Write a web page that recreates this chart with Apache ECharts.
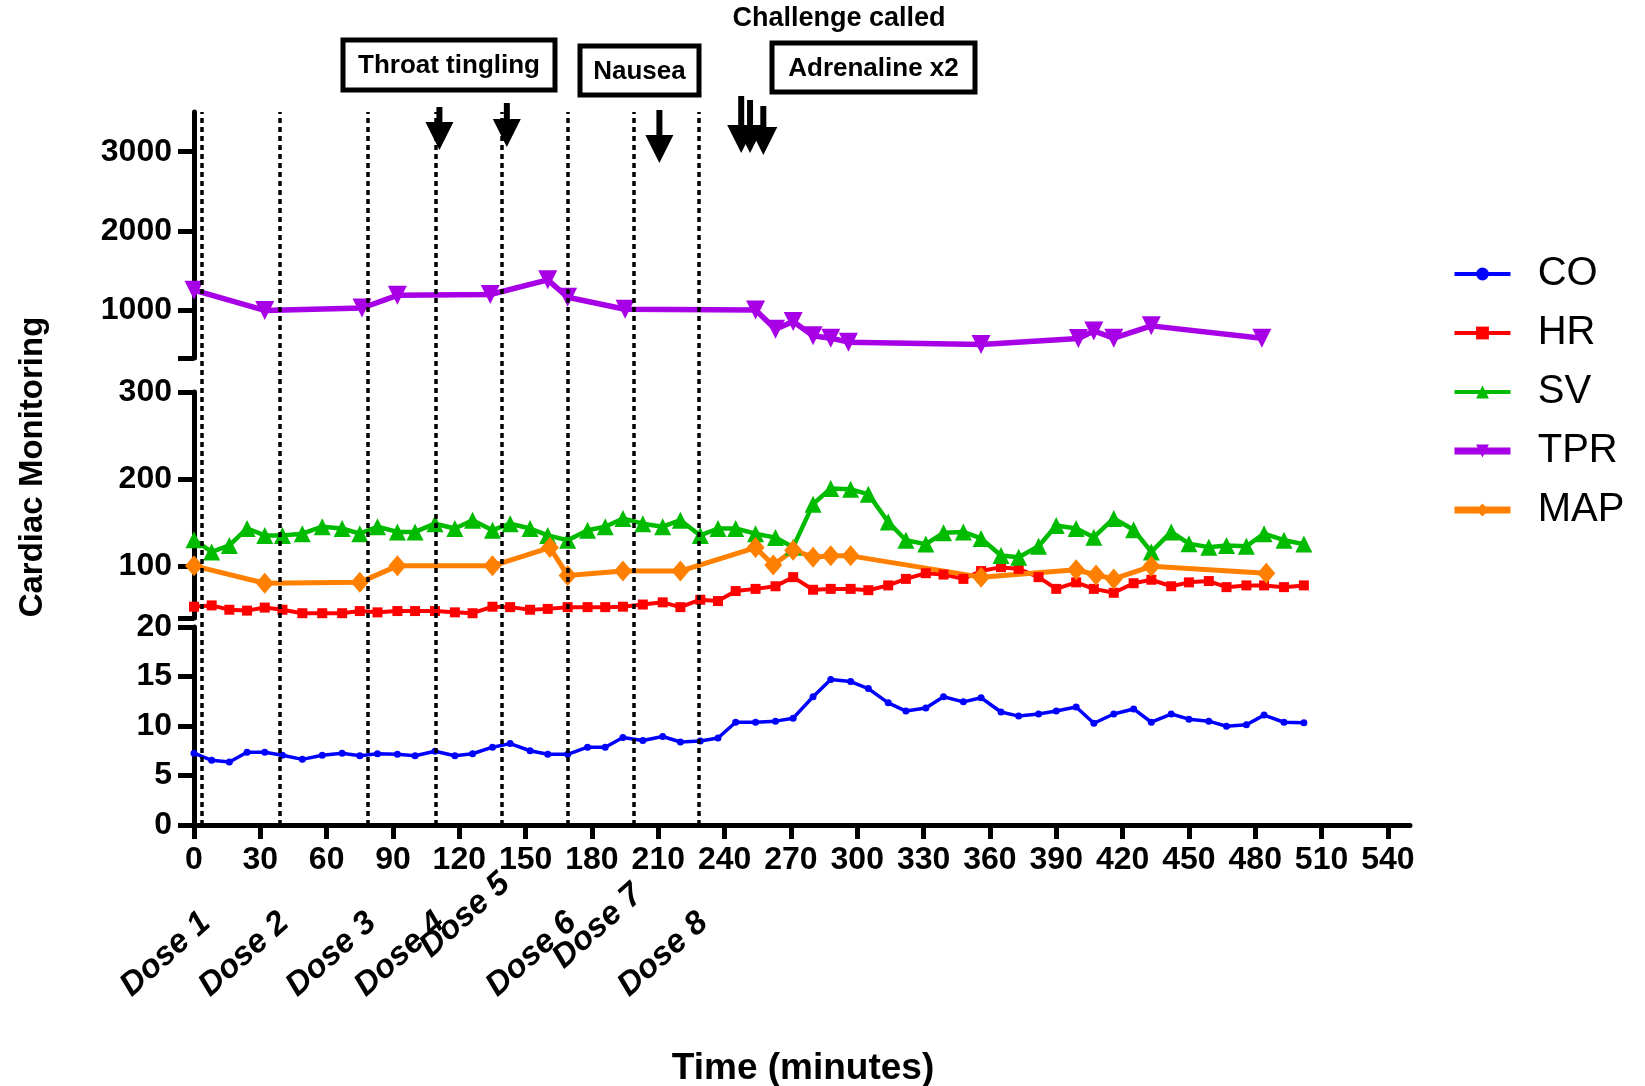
<!DOCTYPE html>
<html>
<head>
<meta charset="utf-8">
<script src="https://cdn.jsdelivr.net/npm/echarts@6/dist/echarts.min.js"></script>
<style>
html,body{margin:0;padding:0;background:#fff;}
#chart{width:1645px;height:1086px;}
</style>
</head>
<body>
<div id="chart"></div>
<script>
// ---------------- DATA ----------------
const seriesNames = ['CO', 'HR', 'SV', 'TPR', 'MAP'];

// measurement times (minutes) shared by CO, HR and SV
const monitorTimes = [0, 8, 16, 24, 32, 40, 49, 58, 67, 75, 83, 92, 100, 109, 118, 126, 135, 143, 152, 160,
  169, 178, 186, 194, 203, 212, 220, 229, 237, 245, 254, 263, 271, 280, 288, 297, 305, 314, 322, 331,
  339, 348, 356, 365, 373, 382, 390, 399, 407, 416, 425, 433, 442, 450, 459, 467, 476, 484, 493, 502];

const coValues = [7.25, 6.53, 6.37, 7.35, 7.35, 7.04, 6.63, 7.04, 7.25, 6.99, 7.2, 7.14, 6.99, 7.45, 6.99, 7.2, 7.86, 8.22, 7.5, 7.14,
  7.14, 7.86, 7.86, 8.84, 8.53, 8.94, 8.38, 8.48, 8.79, 10.38, 10.38, 10.49, 10.79, 12.95, 14.7, 14.49, 13.78, 12.34, 11.51, 11.82,
  12.95, 12.44, 12.85, 11.41, 11.0, 11.21, 11.51, 11.92, 10.28, 11.21, 11.72, 10.38, 11.21, 10.69, 10.49, 9.97, 10.13, 11.1, 10.38, 10.33];

const hrValues = [53, 54.5, 49.5, 48.5, 52, 49.5, 45.5, 45.5, 45.5, 48, 46.5, 48, 48, 48, 46.5, 45.5, 53, 52.5, 49.5, 50.5,
  52.5, 52.5, 52.5, 53, 55.5, 58, 52.5, 61, 59.5, 71, 73.5, 76.5, 87, 72.5, 73.5, 73.5, 72, 77.5, 85, 91.5,
  90, 85, 94, 98.5, 96.5, 87, 73.5, 81, 73.5, 69, 80, 84, 76.5, 81, 82.5, 75.5, 77.5, 77.5, 75.5, 77.5];

const svValues = [130, 116, 123.5, 143, 135, 135, 137, 145, 143, 137, 145, 139, 139, 148.5, 143, 152.5, 141, 148.5, 143, 135,
  129.5, 141, 145, 154.5, 148.5, 145, 152.5, 135, 143, 143, 137, 132.5, 121.5, 171, 189, 188, 182.5, 150.5, 129.5, 125,
  138, 139, 131.5, 112, 110, 122.5, 146.5, 143, 133, 154.5, 141.5, 116, 139, 125.5, 121.5, 123.5, 122.5, 137, 129.5, 125];

const tprTimes = [0, 32, 76, 92, 134, 160, 169, 195, 254, 263, 271, 280, 288, 296, 356, 400, 407, 416, 433, 483];
const tprValues = [1255, 1000, 1030, 1190, 1200, 1385, 1165, 1015, 1005, 763, 860, 680, 650, 600, 570, 645, 740, 650, 805, 650];

const mapTimes = [0, 32, 75, 92, 135, 161, 169, 194, 220, 254, 262, 271, 280, 288, 297, 356, 399, 408, 416, 433, 485];
const mapValues = [100, 80, 81, 100, 100, 121, 89, 94, 94, 121, 101, 118, 110, 111.5, 111.5, 87, 95.5, 89.5, 85, 99.5, 91.5];

const doseTimes = [3.5, 39, 78.5, 109.5, 139, 169, 199, 228.5];
const doseLabels = ['Dose 1', 'Dose 2', 'Dose 3', 'Dose 4', 'Dose 5', 'Dose 6', 'Dose 7', 'Dose 8'];
const arrowTimes = [111, 141.5, 210.5, 247.5, 251.5, 257.5];

const xTicks = [0, 30, 60, 90, 120, 150, 180, 210, 240, 270, 300, 330, 360, 390, 420, 450, 480, 510, 540];
const tprTicks = [1000, 2000, 3000];
const midTicks = [100, 200, 300];
const botTicks = [0, 5, 10, 15, 20];

// ---------------- STYLE / LAYOUT ----------------
const FONT = '"Liberation Sans", Arial, sans-serif';
const colors = {CO: '#0000FF', HR: '#FF0000', SV: '#00BB00', TPR: '#A800E6', MAP: '#FF8000'};
const legendLineWidth = {CO: 4, HR: 4, SV: 4, TPR: 7, MAP: 7};
const segRange = {top: [400, 3500], mid: [40, 300], bot: [0, 20]};
const X_RANGE = [0, 550];
const G_LEFT = 194, G_RIGHT = 235;

const pair = (xs, ys) => xs.map((x, i) => [x, ys[i]]);

const axisLineStyle = {color: '#000', width: 5};
const labelStyle = {color: '#000', fontFamily: FONT, fontWeight: 'bold', fontSize: 32};

function hiddenX(gi) {
  return {type: 'value', gridIndex: gi, min: X_RANGE[0], max: X_RANGE[1], show: false};
}
function segY(gi, range, tickVals, labelVals) {
  return {
    type: 'value', gridIndex: gi, min: range[0], max: range[1],
    axisLine: {show: true, lineStyle: axisLineStyle},
    axisTick: {show: true, length: 16, lineStyle: axisLineStyle, customValues: tickVals},
    axisLabel: Object.assign({margin: 22, customValues: labelVals, formatter: v => String(v)}, labelStyle),
    splitLine: {show: false}
  };
}

const chart = echarts.init(document.getElementById('chart'));

const option = {
  animation: false,
  backgroundColor: '#fff',
  grid: [
    {left: G_LEFT, right: G_RIGHT, top: 112, height: 246},
    {left: G_LEFT, right: G_RIGHT, top: 392, height: 226},
    {left: G_LEFT, right: G_RIGHT, top: 627, height: 198},
    {left: G_LEFT, right: G_RIGHT, top: 112, height: 713}
  ],
  xAxis: [
    hiddenX(0), hiddenX(1),
    {
      type: 'value', gridIndex: 2, min: X_RANGE[0], max: X_RANGE[1],
      axisLine: {show: true, lineStyle: axisLineStyle},
      axisTick: {show: true, length: 14, lineStyle: axisLineStyle, customValues: xTicks},
      axisLabel: Object.assign({margin: 19, customValues: xTicks, formatter: v => String(v)}, labelStyle),
      splitLine: {show: false}
    },
    hiddenX(3)
  ],
  yAxis: [
    segY(0, segRange.top, [400].concat(tprTicks), tprTicks),
    segY(1, segRange.mid, [40].concat(midTicks), midTicks),
    segY(2, segRange.bot, botTicks, botTicks),
    {type: 'value', gridIndex: 3, min: 0, max: 1, show: false}
  ],
  legend: {
    orient: 'vertical', left: 1446, top: 249,
    itemWidth: 56, itemHeight: 16, itemGap: 19,
    data: seriesNames.map(n => ({name: n, lineStyle: {width: legendLineWidth[n]}})),
    formatter: n => '  ' + n,
    textStyle: {fontFamily: FONT, fontSize: 40, lineHeight: 40, color: '#000'}
  },
  series: [
    {
      name: 'CO', type: 'line', xAxisIndex: 2, yAxisIndex: 2, z: 4,
      data: pair(monitorTimes, coValues),
      symbol: 'circle', symbolSize: 7,
      lineStyle: {color: colors.CO, width: 3.5}, itemStyle: {color: colors.CO}
    },
    {
      name: 'HR', type: 'line', xAxisIndex: 1, yAxisIndex: 1, z: 4,
      data: pair(monitorTimes, hrValues),
      symbol: 'rect', symbolSize: 10,
      lineStyle: {color: colors.HR, width: 4}, itemStyle: {color: colors.HR}
    },
    {
      name: 'SV', type: 'line', xAxisIndex: 1, yAxisIndex: 1, z: 4,
      data: pair(monitorTimes, svValues),
      symbol: 'triangle', symbolSize: 17,
      lineStyle: {color: colors.SV, width: 4.5}, itemStyle: {color: colors.SV}
    },
    {
      name: 'TPR', type: 'line', xAxisIndex: 0, yAxisIndex: 0, z: 4,
      data: pair(tprTimes, tprValues),
      symbol: 'triangle', symbolRotate: 180, symbolSize: 19,
      lineStyle: {color: colors.TPR, width: 5.5}, itemStyle: {color: colors.TPR}
    },
    {
      name: 'MAP', type: 'line', xAxisIndex: 1, yAxisIndex: 1, z: 4,
      data: pair(mapTimes, mapValues),
      symbol: 'diamond', symbolSize: [18, 21],
      lineStyle: {color: colors.MAP, width: 5}, itemStyle: {color: colors.MAP}
    },
    {
      name: 'doses', type: 'line', xAxisIndex: 3, yAxisIndex: 3, z: 1,
      data: [],
      markLine: {
        silent: true, symbol: ['none', 'none'], animation: false,
        label: {show: false},
        lineStyle: {color: '#000', type: [5, 4], width: 3.5},
        data: doseTimes.map(t => ({xAxis: t}))
      }
    }
  ]
};
chart.setOption(option);

// ---------------- ANNOTATIONS ----------------
const xp = t => chart.convertToPixel({xAxisIndex: 2}, t);
const g = [];

// arrows (shaft top, tip y)
const arrowShape = [[107, 150], [103, 147], [110, 163], [96, 153], [100, 153], [106, 155]];
arrowTimes.forEach((t, i) => {
  const x = xp(t);
  const top = arrowShape[i][0], tip = arrowShape[i][1], base = tip - 28;
  g.push({type: 'rect', shape: {x: x - 3, y: top, width: 6, height: base - top + 1}, style: {fill: '#000'}, z: 10});
  g.push({type: 'polygon', shape: {points: [[x - 14, base], [x + 14, base], [x, tip]]}, style: {fill: '#000'}, z: 10});
});

// boxed annotations
const boxes = [
  {text: 'Throat tingling', x: 343, y: 40, w: 212, h: 50},
  {text: 'Nausea', x: 580, y: 46, w: 119, h: 49},
  {text: 'Adrenaline x2', x: 772, y: 43, w: 203, h: 49}
];
boxes.forEach(b => {
  g.push({type: 'rect', shape: {x: b.x, y: b.y, width: b.w, height: b.h}, style: {fill: '#fff', stroke: '#000', lineWidth: 5}, z: 10});
  g.push({type: 'text', x: b.x + b.w / 2, y: b.y + b.h / 2 + 1, z: 11,
    style: {text: b.text, font: 'bold 26px ' + FONT, textAlign: 'center', textVerticalAlign: 'middle', fill: '#000'}});
});
g.push({type: 'text', x: 839, y: 19, z: 11,
  style: {text: 'Challenge called', font: 'bold 27px ' + FONT, textAlign: 'center', textVerticalAlign: 'middle', fill: '#000'}});

// dose labels (rotated), two of them lifted to avoid overlap
const doseLift = [0, 0, 0, 0, 39, 0, 28, 0];
doseTimes.forEach((t, i) => {
  g.push({type: 'text', x: xp(t) - 7, y: 906 - doseLift[i], rotation: 42 * Math.PI / 180, z: 11,
    style: {text: doseLabels[i], font: 'italic bold 33px ' + FONT, textAlign: 'right', textVerticalAlign: 'top', fill: '#000'}});
});

// axis titles
g.push({type: 'text', x: 33, y: 467, rotation: Math.PI / 2, z: 11,
  style: {text: 'Cardiac Monitoring', font: 'bold 33px ' + FONT, textAlign: 'center', textVerticalAlign: 'middle', fill: '#000'}});
g.push({type: 'text', x: 803, y: 1069, z: 11,
  style: {text: 'Time (minutes)', font: 'bold 37px ' + FONT, textAlign: 'center', textVerticalAlign: 'middle', fill: '#000'}});

chart.setOption({graphic: g});
</script>
</body>
</html>
